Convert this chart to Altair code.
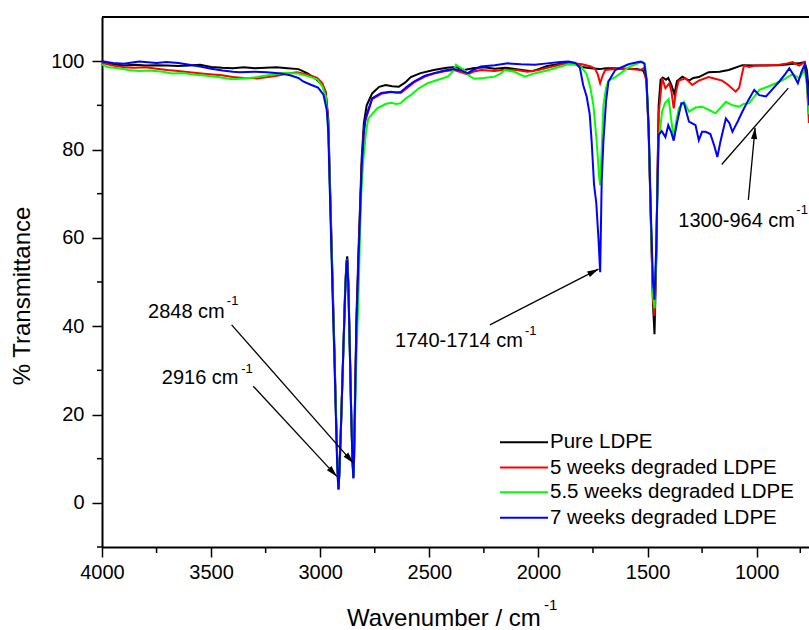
import math
import altair as alt
import pandas as pd

FONT = "Liberation Sans"

series_names = ["Pure LDPE", "5 weeks degraded LDPE",
                "5.5 weeks degraded LDPE", "7 weeks degraded LDPE"]
series_colors = ["#000000", "#ff0000", "#00ff00", "#0000ff"]

# (wavenumber, % transmittance)
pure = [
    (4000, 99.8), (3950, 99.3), (3900, 99.0), (3850, 99.2), (3800, 99.0), (3750, 99.1),
    (3700, 99.0), (3650, 98.9), (3600, 99.0), (3550, 99.2), (3500, 98.7), (3450, 98.5),
    (3400, 98.4), (3350, 98.6), (3300, 98.4), (3250, 98.5), (3200, 98.6), (3150, 98.4),
    (3100, 98.2), (3060, 97.3), (3020, 96.0), (2990, 94.5), (2975, 93.0), (2963, 87),
    (2955, 72), (2949, 61), (2942, 48), (2935, 35), (2929, 23), (2923, 12), (2919, 6),
    (2916, 3.2), (2912, 7), (2905, 17), (2895, 33), (2886, 48), (2880, 54.5), (2876, 55.8),
    (2871, 50), (2865, 37), (2858, 21), (2852, 10), (2848, 5.8), (2845, 10), (2840, 25),
    (2834, 42), (2824, 58), (2817, 68), (2810, 78), (2800, 86), (2787, 90), (2762, 92.7),
    (2730, 94.2), (2700, 94.6), (2670, 94.3), (2640, 94.2), (2610, 95.2), (2585, 96.4),
    (2540, 97.3), (2480, 98.0), (2420, 98.5), (2380, 98.7), (2340, 98.0), (2300, 98.4),
    (2250, 98.6), (2200, 98.3), (2150, 98.5), (2100, 98.2), (2060, 97.9), (2030, 97.7),
    (2000, 98.2), (1960, 98.9), (1925, 99.2), (1880, 99.6), (1850, 99.7), (1800, 98.7),
    (1760, 98.4), (1720, 98.2), (1690, 98.4), (1650, 98.4), (1600, 98.3), (1550, 98.2),
    (1520, 97.9), (1505, 96), (1495, 85), (1485, 65), (1475, 45), (1468, 38.2),
    (1460, 55), (1455, 72), (1449, 90), (1440, 95.8), (1430, 96.3), (1415, 95.8),
    (1405, 96.2), (1390, 94.5), (1377, 92.5), (1365, 95.5), (1340, 96.5), (1310, 95.6),
    (1290, 96.2), (1265, 96.4), (1220, 97.5), (1170, 97.6), (1128, 98.0), (1065, 99.1),
    (1000, 99.0), (970, 99.0), (900, 99.1), (850, 99.3), (800, 99.6), (780, 99.8),
    (770, 98.0), (760, 93.0),
]

weeks5 = [
    (4000, 99.6), (3950, 99.0), (3900, 98.6), (3850, 98.5), (3800, 98.6), (3750, 98.3),
    (3700, 98.0), (3650, 97.8), (3600, 97.5), (3521, 97.1), (3450, 96.8), (3401, 96.4),
    (3350, 96.2), (3290, 96.1), (3240, 96.4), (3198, 96.7), (3150, 97.2), (3106, 97.5),
    (3060, 97.0), (3014, 96.2), (2990, 95.0), (2975, 93.0), (2963, 86),
    (2955, 71), (2949, 60), (2942, 47), (2935, 34), (2929, 22), (2923, 11), (2919, 5.5),
    (2916, 3.1), (2912, 7), (2905, 17), (2895, 33), (2886, 47), (2880, 54), (2876, 55.2),
    (2871, 49), (2865, 36), (2858, 20), (2852, 9.5), (2848, 5.7), (2845, 10), (2840, 24),
    (2834, 40), (2824, 56), (2817, 66), (2810, 76), (2800, 84), (2793, 86.5), (2762, 91.4),
    (2720, 92.6), (2677, 93.0), (2631, 92.8), (2600, 94.0), (2570, 95.2), (2520, 96.5),
    (2478, 97.2), (2430, 97.7), (2387, 98.0), (2350, 97.4), (2324, 97.0), (2300, 97.6),
    (2263, 98.0), (2200, 97.8), (2150, 98.1), (2100, 98.0), (2050, 97.6), (2000, 98.0),
    (1950, 98.6), (1900, 99.2), (1863, 99.5), (1830, 99.5), (1800, 99.3), (1760, 98.8),
    (1741, 98.3), (1728, 97.0), (1717, 95.0), (1705, 96.8), (1694, 98.0), (1650, 98.2),
    (1587, 98.3), (1533, 98.0), (1515, 98.5), (1505, 95), (1495, 84), (1485, 64),
    (1475, 46), (1468, 42.3), (1460, 56), (1455, 72), (1449, 88), (1433, 96.1),
    (1418, 93.9), (1400, 95.0), (1390, 93.0), (1380, 89.3), (1370, 93.0), (1357, 95.6),
    (1326, 96.1), (1295, 94.6), (1265, 95.6), (1220, 96.4), (1190, 96.0), (1158, 95.6),
    (1130, 94.6), (1096, 93.1), (1080, 94.0), (1065, 97.5), (1058, 99.0), (1034, 98.7),
    (1004, 99.0), (950, 99.1), (896, 99.2), (860, 99.5), (835, 99.8), (805, 99.0),
    (780, 99.8), (770, 95.0), (760, 86.0),
]

weeks55 = [
    (4000, 99.2), (3970, 98.6), (3920, 98.4), (3880, 98.0), (3830, 97.8), (3783, 97.9),
    (3720, 97.6), (3680, 97.2), (3631, 97.3), (3580, 97.0), (3521, 96.7), (3470, 96.4),
    (3401, 95.9), (3350, 96.1), (3290, 96.4), (3240, 96.8), (3170, 97.3), (3100, 97.2),
    (3050, 96.5), (3014, 95.9), (2990, 94.3), (2975, 92.0), (2963, 85),
    (2955, 70), (2949, 59), (2942, 46), (2935, 33), (2929, 22), (2923, 11), (2919, 5.5),
    (2916, 3.2), (2912, 7), (2905, 17), (2895, 32), (2886, 47), (2880, 54), (2876, 55.0),
    (2871, 49), (2865, 36), (2858, 20), (2852, 9.5), (2848, 5.9), (2845, 9), (2840, 20),
    (2834, 33), (2824, 48), (2818, 60), (2812, 70), (2802, 78), (2790, 84), (2780, 87),
    (2739, 89.3), (2700, 90.3), (2677, 90.6), (2650, 90.3), (2631, 90.5), (2610, 91.5),
    (2585, 92.3), (2550, 93.8), (2508, 95.0), (2460, 95.8), (2416, 96.5), (2395, 97.5),
    (2378, 99.2), (2360, 98.6), (2340, 98.0), (2320, 96.8), (2294, 96.0), (2250, 96.2),
    (2201, 96.5), (2170, 97.3), (2155, 98.0), (2110, 97.6), (2063, 96.5), (2020, 97.2),
    (1960, 97.9), (1925, 98.4), (1863, 99.3), (1830, 99.2), (1802, 98.6), (1779, 97.1),
    (1762, 94.0), (1748, 90.0), (1733, 81.8), (1722, 74.0), (1717, 71.9), (1710, 80.0),
    (1702, 90.0), (1690, 94.0), (1679, 95.6), (1648, 96.4), (1587, 98.6), (1525, 99.9),
    (1512, 99.4), (1505, 96), (1495, 85), (1485, 65), (1475, 47), (1468, 44),
    (1460, 57), (1455, 70), (1449, 82), (1433, 88.6), (1420, 90.5), (1403, 91.4),
    (1392, 87.0), (1380, 82.5), (1370, 86.0), (1357, 89.3), (1333, 90.8), (1310, 88.6),
    (1280, 89.5), (1250, 89.7), (1220, 89.0), (1188, 88.2), (1165, 89.5), (1141, 90.8),
    (1110, 90.0), (1080, 89.7), (1060, 90.3), (1034, 90.5), (1010, 92.0), (988, 93.5),
    (950, 94.2), (911, 95.0), (870, 96.0), (835, 97.1), (805, 96.1), (780, 98.0),
    (770, 95.0), (760, 88.0),
]

weeks7 = [
    (4000, 100.0), (3950, 99.6), (3900, 99.4), (3830, 99.9), (3750, 99.6), (3705, 99.8),
    (3650, 99.6), (3600, 99.2), (3550, 98.8), (3500, 98.3), (3447, 97.9), (3400, 97.6),
    (3369, 97.5), (3300, 97.6), (3244, 97.5), (3180, 97.2), (3138, 96.8), (3100, 96.2),
    (3078, 95.4), (3040, 94.6), (3010, 94.0), (2985, 92.4), (2970, 89), (2963, 84),
    (2955, 69), (2949, 58), (2942, 45), (2935, 33), (2929, 21), (2923, 10), (2919, 5),
    (2916, 3.0), (2912, 7), (2905, 17), (2895, 33), (2886, 47), (2880, 54), (2876, 55.0),
    (2871, 49), (2865, 36), (2858, 20), (2852, 9), (2848, 5.5), (2845, 10), (2840, 24),
    (2834, 40), (2824, 56), (2817, 66), (2810, 76), (2800, 84), (2793, 87), (2762, 91.6),
    (2720, 92.8), (2677, 93.1), (2650, 92.9), (2631, 93.0), (2600, 94.3), (2570, 95.4),
    (2520, 96.7), (2478, 97.3), (2430, 97.9), (2387, 98.2), (2350, 97.8), (2324, 97.3),
    (2300, 98.0), (2263, 98.8), (2200, 99.1), (2140, 99.5), (2080, 99.3), (2017, 99.2),
    (1960, 99.5), (1900, 99.8), (1863, 99.9), (1830, 99.6), (1810, 98.5), (1795, 94.6),
    (1779, 92.0), (1765, 88.0), (1756, 81.8), (1745, 72.0), (1735, 68.0), (1725, 60.0),
    (1717, 52.2), (1710, 73.0), (1702, 82.0), (1690, 91.0), (1679, 95.4), (1648, 98.0),
    (1587, 99.3), (1533, 99.9), (1515, 99.5), (1505, 96), (1495, 85), (1485, 66),
    (1475, 50), (1468, 46), (1460, 58), (1455, 70), (1449, 83.3), (1435, 84.2),
    (1418, 82.8), (1405, 85.5), (1392, 84.0), (1380, 82.0), (1365, 86.0), (1345, 90.5),
    (1333, 90.5), (1310, 86.3), (1280, 85.5), (1265, 82.1), (1250, 84.0), (1234, 84.0),
    (1212, 83.5), (1195, 81.0), (1180, 78.3), (1165, 82.0), (1141, 87.0), (1125, 86.0),
    (1111, 84.0), (1085, 86.5), (1065, 88.6), (1040, 91.0), (1011, 93.5), (988, 92.3),
    (957, 92.0), (930, 93.5), (896, 95.4), (870, 97.0), (850, 98.4), (830, 96.8),
    (811, 95.0), (795, 97.5), (780, 99.2), (770, 96.0), (760, 90.0),
]

x_ticks = [4000, 3500, 3000, 2500, 2000, 1500, 1000]
x_minor = [3750, 3250, 2750, 2250, 1750, 1250, 800]
y_ticks = [0, 20, 40, 60, 80, 100]
y_minor = [-10, 10, 30, 50, 70, 90]

# annotations (data coordinates)
ann_labels = ["2848 cm", "2916 cm", "1740-1714 cm", "1300-964 cm"]
ann_wn = [3789, 3726, 2657, 1359]
ann_t = [43.3, 28.3, 36.6, 63.7]
sup_wn = [3428, 3362, 2062, 818]
sup_t = [45.6, 30.4, 39.0, 66.2]

arrow_w1 = [3406, 3307, 2222, 1038]
arrow_t1 = [40.3, 26.4, 40.3, 68.6]
arrow_w2 = [2848, 2924, 1725, 1007]
arrow_t2 = [9.0, 6.0, 52.9, 84.9]
bar_w = [1160, 855]
bar_t = [76.6, 93.9]

legend_t = [13.7, 8.0, 2.4, -3.4]
legend_w = [2176, 1956, 1947]

X_DOMAIN = [4000, 760]
Y_DOMAIN = [-10, 110]
W, H = 707, 530

rows = []
for name, pts in zip(series_names, [pure, weeks5, weeks55, weeks7]):
    for i, (w, t) in enumerate(pts):
        rows.append({"series": name, "wn": w, "t": t, "order": i})
df = pd.DataFrame(rows)

xs = alt.Scale(domain=X_DOMAIN, nice=False, zero=False)
ys = alt.Scale(domain=Y_DOMAIN, nice=False, zero=False)
xaxis = alt.Axis(values=x_ticks, format="d", title=None, grid=False, labelFlush=False,
                 labelFont=FONT, labelFontSize=20, labelColor="black", labelPadding=5,
                 tickSize=10, tickWidth=1.5, tickColor="black",
                 domainColor="black", domainWidth=2, labelOverlap=False)
yaxis = alt.Axis(values=y_ticks, format="d", title=None, grid=False,
                 labelFont=FONT, labelFontSize=20, labelColor="black", labelPadding=8,
                 tickSize=10, tickWidth=1.5, tickColor="black",
                 domainColor="black", domainWidth=2, labelOverlap=False)


def X(field):
    return alt.X(field, type="quantitative", scale=xs, axis=xaxis)


def Y(field):
    return alt.Y(field, type="quantitative", scale=ys, axis=yaxis)


lines = alt.Chart(df).mark_line(strokeWidth=2, clip=True).encode(
    x=X("wn"), y=Y("t"),
    color=alt.Color("series:N", scale=alt.Scale(domain=series_names, range=series_colors),
                    sort=series_names, legend=None),
    order="order:Q",
    detail="series:N",
)

minor_x = alt.Chart(pd.DataFrame({"wn": x_minor})).mark_rule(
    color="black", strokeWidth=1.5).encode(
    x=X("wn"), y=alt.value(H), y2=alt.value(H + 6))
minor_y = alt.Chart(pd.DataFrame({"t": y_minor})).mark_rule(
    color="black", strokeWidth=1.5).encode(
    y=Y("t"), x=alt.value(0), x2=alt.value(-5))
top_rule = alt.Chart(pd.DataFrame({"a": [0]})).mark_rule(
    color="black", strokeWidth=2).encode(
    x=alt.value(0), x2=alt.value(W), y=alt.value(0))

ann = alt.Chart(pd.DataFrame({"wn": ann_wn, "t": ann_t, "label": ann_labels})).mark_text(
    font=FONT, fontSize=20, align="left", baseline="middle", color="black").encode(
    x=X("wn"), y=Y("t"), text="label:N")
sup = alt.Chart(pd.DataFrame({"wn": sup_wn, "t": sup_t, "label": ["-1"] * 4})).mark_text(
    font=FONT, fontSize=13, align="left", baseline="middle", color="black").encode(
    x=X("wn"), y=Y("t"), text="label:N")

adf = pd.DataFrame({"w1": arrow_w1, "t1": arrow_t1, "w2": arrow_w2, "t2": arrow_t2})
pxw = W / (X_DOMAIN[0] - X_DOMAIN[1])
pxt = H / (Y_DOMAIN[1] - Y_DOMAIN[0])
heads = []
for r in adf.itertuples():
    dx = (r.w1 - r.w2) * pxw
    dy = (r.t1 - r.t2) * pxt
    L = math.hypot(dx, dy)
    ux, uy = dx / L, dy / L
    ang = math.degrees(math.atan2(dx, -dy)) % 360
    heads.append({"wn": r.w2 + 5.5 * ux / pxw, "t": r.t2 + 5.5 * uy / pxt, "ang": ang})
hdf = pd.DataFrame(heads)

arrow_lines = alt.Chart(adf).mark_rule(color="black", strokeWidth=1.3).encode(
    x=X("w1"), x2="w2", y=Y("t1"), y2="t2")
bar_line = alt.Chart(pd.DataFrame({"w1": [bar_w[0]], "w2": [bar_w[1]],
                                   "t1": [bar_t[0]], "t2": [bar_t[1]]})).mark_rule(
    color="black", strokeWidth=1.3).encode(x=X("w1"), x2="w2", y=Y("t1"), y2="t2")
arrow_heads = alt.Chart(hdf).mark_point(
    shape="M0,-1L0.55,1L-0.55,1Z", filled=True, color="black", opacity=1, size=130).encode(
    x=X("wn"), y=Y("t"), angle=alt.Angle("ang:Q", scale=None))

ldf = pd.DataFrame({"series": series_names, "t": legend_t,
                    "w1": [legend_w[0]] * 4, "w2": [legend_w[1]] * 4,
                    "wt": [legend_w[2]] * 4})
leg_lines = alt.Chart(ldf).mark_rule(strokeWidth=2).encode(
    x=X("w1"), x2="w2", y=Y("t"),
    color=alt.Color("series:N", scale=alt.Scale(domain=series_names, range=series_colors),
                    legend=None))
leg_text = alt.Chart(ldf).mark_text(
    font=FONT, fontSize=20.5, align="left", baseline="middle", color="black").encode(
    x=X("wt"), y=Y("t"), text="series:N")

one = pd.DataFrame({"a": [0]})
xtitle = alt.Chart(one).mark_text(
    font=FONT, fontSize=24, align="left", baseline="alphabetic", color="black",
    text="Wavenumber / cm").encode(x=alt.value(245), y=alt.value(609))
xtitle_sup = alt.Chart(one).mark_text(
    font=FONT, fontSize=15, align="left", baseline="middle", color="black",
    text="-1").encode(x=alt.value(442), y=alt.value(588))
ytitle = alt.Chart(one).mark_text(
    font=FONT, fontSize=24, align="center", baseline="middle", color="black", angle=270,
    text="% Transmittance").encode(x=alt.value(-79), y=alt.value(279))

chart = alt.layer(
    lines, minor_x, minor_y, top_rule, ann, sup, arrow_lines, bar_line, arrow_heads,
    leg_lines, leg_text, xtitle, xtitle_sup, ytitle,
).resolve_scale(color="independent").properties(
    width=W, height=H,
    autosize=alt.AutoSizeParams(type="none"),
    padding={"left": 102, "top": 17, "right": 0, "bottom": 83},
    background="white",
).configure_view(stroke=None)

chart.save("out.html", embed_options={"renderer": "svg", "actions": False})
